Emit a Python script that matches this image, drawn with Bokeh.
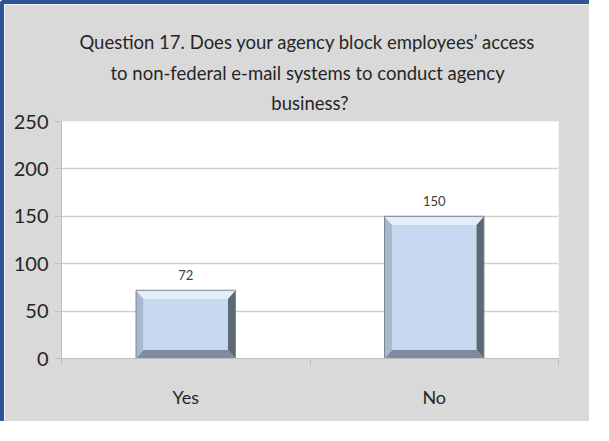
from bokeh.plotting import figure
from bokeh.models import FixedTicker, Title, Range1d
from bokeh.core.properties import value
from bokeh.embed import file_html
from bokeh.resources import INLINE

categories = ["Yes", "No"]
counts = [72, 150]
y_ticks = [0, 50, 100, 150, 200, 250]
title_lines = [
    "Question 17.  Does your agency block employees\u2019 access",
    "to non-federal  e-mail systems to conduct agency",
    "business?",
]

FONT = "Lato"
BG = "#d9d9d9"

p = figure(width=589, height=421, output_backend="svg", toolbar_location=None,
           x_range=Range1d(0, len(categories)), y_range=Range1d(0, 250),
           min_border_left=57, min_border_right=35, min_border_top=117, min_border_bottom=67)
p.background_fill_color = "white"
p.border_fill_color = BG
p.outline_line_color = None
p.styles = {"border-top": "4px solid #2f5597", "border-left": "4px solid #2f5597",
            "border-top-left-radius": "4px"}

def style_title(t, standoff):
    t.align = "center"
    t.text_font = FONT
    t.text_font_size = "18.5px"
    t.text_font_style = "normal"
    t.text_color = "#262626"
    t.standoff = standoff

# titles: p.title is the outermost line, later added lines sit further out than earlier ones
p.title.text = title_lines[0]
style_title(p.title, 7)
spacer = Title(text="")
style_title(spacer, 5)
p.add_layout(spacer, "above")
t3 = Title(text=title_lines[2])
style_title(t3, 11)
t3.vertical_align = "top"
p.add_layout(t3, "above")
t2 = Title(text=title_lines[1])
style_title(t2, 6)
p.add_layout(t2, "above")

# bars with bevel
hw = 0.2
dx = 0.03
dy = 9
xs_c = [i + 0.5 for i in range(len(categories))]
top_x, top_y, left_x, left_y, right_x, right_y, bot_x, bot_y = [], [], [], [], [], [], [], []
for c, v in zip(xs_c, counts):
    l, r = c - hw, c + hw
    top_x.append([l, r, r - dx, l + dx]); top_y.append([v, v, v - dy, v - dy])
    left_x.append([l, l, l + dx, l + dx]); left_y.append([0, v, v - dy, dy])
    right_x.append([r, r, r - dx, r - dx]); right_y.append([0, v, v - dy, dy])
    bot_x.append([l, r, r - dx, l + dx]); bot_y.append([0, 0, dy, dy])

p.quad(left=[c - hw + dx for c in xs_c], right=[c + hw - dx for c in xs_c],
       bottom=[dy] * len(counts), top=[v - dy for v in counts],
       fill_color="#c6d9f0", line_color=None)
p.patches(left_x, left_y, fill_color="#a7b9ce", line_color=None)
p.patches(bot_x, bot_y, fill_color="#7d8b9c", line_color=None)
p.patches(right_x, right_y, fill_color="#5c6875", line_color=None)
p.patches(top_x, top_y, fill_color="#e2edf9", line_color=None)
p.quad(left=[c - hw for c in xs_c], right=[c + hw for c in xs_c],
       bottom=[0] * len(counts), top=counts, fill_color=None, line_color="#7a848f", line_width=1)

# data labels
p.text(x=xs_c, y=counts, text=[str(v) for v in counts], text_align="center",
       text_baseline="bottom", y_offset=-10, text_font=value(FONT), text_font_size="13px",
       text_color="#404040")

# axes
p.yaxis.ticker = FixedTicker(ticks=y_ticks)
p.yaxis.major_label_text_font = FONT
p.yaxis.major_label_text_font_size = "20px"
p.yaxis.major_label_text_color = "#262626"
p.yaxis.axis_line_color = "#bfbfbf"
p.yaxis.major_tick_line_color = "#bfbfbf"
p.yaxis.major_tick_out = 7
p.yaxis.major_tick_in = 0
p.yaxis.minor_tick_line_color = None
p.yaxis.major_label_standoff = 6

p.xaxis.ticker = FixedTicker(ticks=xs_c, minor_ticks=list(range(len(categories) + 1)))
p.xaxis.major_label_overrides = {x: c for x, c in zip(xs_c, categories)}
p.xaxis.major_tick_line_color = None
p.xaxis.minor_tick_line_color = "#bfbfbf"
p.xaxis.minor_tick_out = 7
p.xaxis.minor_tick_in = 0
p.xaxis.axis_line_color = "#bfbfbf"
p.xaxis.major_label_text_font = FONT
p.xaxis.major_label_text_font_size = "18px"
p.xaxis.major_label_text_color = "#262626"
p.xaxis.major_label_standoff = 20

p.xgrid.grid_line_color = None
p.ygrid.grid_line_color = "#d0d0d0"
p.ygrid.grid_line_width = 1.5

open("out.html", "w").write(file_html(p, INLINE))
